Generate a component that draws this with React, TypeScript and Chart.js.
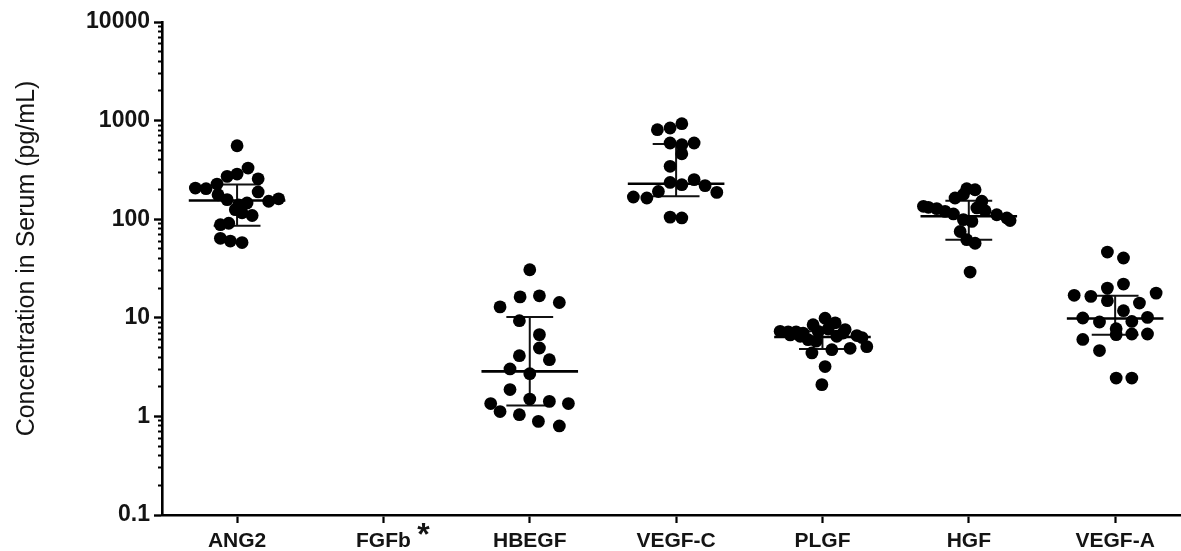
import { useEffect, useRef } from "react";
import { Chart, registerables } from "chart.js";

Chart.register(...registerables);

// ---------- data ----------
const categories = ["ANG2", "FGFb", "HBEGF", "VEGF-C", "PLGF", "HGF", "VEGF-A"];
const yTickLabels = [0.1, 1, 10, 100, 1000, 10000];
const yTitle = "Concentration in Serum (pg/mL)";

// values (pg/mL) and horizontal jitter (in category widths) for each group
const ang2Values = [556, 330, 287, 272, 257, 227, 207, 204, 189, 177, 158, 152, 161, 146, 140, 116, 109, 88, 91, 125, 64, 60, 58];
const ang2Jitter = [0, 0.075, 0, -0.068, 0.144, -0.137, -0.285, -0.212, 0.144, -0.13, -0.068, 0.216, 0.284, 0.068, 0.011, 0.034, 0.103, -0.114, -0.057, -0.012, -0.114, -0.046, 0.034];

const fgfbValues: number[] = [];
const fgfbJitter: number[] = [];

const hbegfValues = [30.7, 16.3, 16.7, 12.9, 14.3, 9.35, 6.75, 4.94, 4.13, 3.76, 3.03, 2.71, 1.87, 1.5, 1.42, 1.35, 1.12, 1.04, 1.35, 0.89, 0.8];
const hbegfJitter = [0, -0.066, 0.066, -0.203, 0.202, -0.071, 0.066, 0.066, -0.071, 0.134, -0.135, 0, -0.135, 0, 0.134, -0.267, -0.203, -0.071, 0.264, 0.059, 0.202];

const vegfcValues = [809, 841, 931, 593, 570, 593, 461, 344, 236, 224, 252, 219, 191, 164, 168, 187, 105, 103];
const vegfcJitter = [-0.128, -0.041, 0.039, -0.041, 0.039, 0.123, 0.039, -0.041, -0.041, 0.039, 0.123, 0.198, -0.121, -0.2, -0.292, 0.278, -0.041, 0.039];

const plgfValues = [7.3, 7.2, 7.2, 7.0, 8.5, 9.9, 8.9, 7.3, 7.0, 6.6, 5.1, 4.9, 4.75, 4.4, 3.2, 2.1, 6.0, 6.5, 7.6, 7.7, 6.7, 6.3, 5.8, 6.5];
const plgfJitter = [-0.289, -0.234, -0.18, -0.132, -0.064, 0.018, 0.087, -0.029, 0.141, 0.235, 0.303, 0.189, 0.064, -0.072, 0.018, -0.004, -0.098, 0.098, 0.155, 0.039, -0.22, 0.27, -0.044, -0.152];

const hgfValues = [204, 199, 164, 152, 132, 128, 120, 113, 130, 122, 111, 103, 97, 99, 95, 75, 62, 57, 29.1, 135, 178];
const hgfJitter = [-0.014, 0.043, -0.094, 0.089, -0.276, -0.219, -0.162, -0.105, 0.055, 0.111, 0.191, 0.26, 0.282, -0.037, 0.021, -0.059, -0.014, 0.043, 0.009, -0.31, -0.037];

const vegfaValues = [46.4, 40.4, 22, 20, 16.9, 16.5, 17.8, 14.9, 14.1, 11.8, 9.95, 9.07, 9.19, 10.1, 7.74, 6.85, 6.75, 6.85, 6.03, 4.65, 2.45, 2.45];
const vegfaJitter = [-0.053, 0.057, 0.057, -0.053, -0.28, -0.166, 0.28, -0.053, 0.166, 0.057, -0.221, -0.107, 0.114, 0.221, 0.007, 0.114, 0.007, 0.221, -0.221, -0.107, 0.007, 0.114];

// median and interquartile range per group (null = no data)
const medians = [155, null, 2.86, 229, 6.38, 107, 9.84];
const upperQuartiles = [225, null, 10.2, 580, 7.3, 154, 16.7];
const lowerQuartiles = [86, null, 1.29, 171, 4.82, 62, 6.75];

const groupValues = [ang2Values, fgfbValues, hbegfValues, vegfcValues, plgfValues, hgfValues, vegfaValues];
const groupJitter = [ang2Jitter, fgfbJitter, hbegfJitter, vegfcJitter, plgfJitter, hgfJitter, vegfaJitter];

const MEDIAN_HALF = 0.33;
const CAP_HALF = 0.16;

type Pt = { x: number; y: number | null };

function buildPoints(): Pt[] {
  const pts: Pt[] = [];
  groupValues.forEach((vals, i) => {
    vals.forEach((v, j) => pts.push({ x: i + groupJitter[i][j], y: v }));
  });
  return pts;
}

function buildMedianLines(): Pt[] {
  const pts: Pt[] = [];
  medians.forEach((m, i) => {
    if (m == null) return;
    pts.push({ x: i - MEDIAN_HALF, y: m }, { x: i + MEDIAN_HALF, y: m }, { x: i + MEDIAN_HALF, y: null });
  });
  return pts;
}

function buildWhiskers(): Pt[] {
  const pts: Pt[] = [];
  medians.forEach((m, i) => {
    const hi = upperQuartiles[i];
    const lo = lowerQuartiles[i];
    if (m == null || hi == null || lo == null) return;
    pts.push({ x: i - CAP_HALF, y: hi }, { x: i + CAP_HALF, y: hi }, { x: i + CAP_HALF, y: null });
    pts.push({ x: i - CAP_HALF, y: lo }, { x: i + CAP_HALF, y: lo }, { x: i + CAP_HALF, y: null });
    pts.push({ x: i, y: lo }, { x: i, y: hi }, { x: i, y: null });
  });
  return pts;
}

const minorTicks: number[] = [];
for (let d = 0.1; d < 10000; d *= 10) {
  for (let m = 2; m <= 9; m++) minorTicks.push(+(m * d).toPrecision(3));
}

const TEXT = "#141414";
const FONT = "'Liberation Sans', Arial, Helvetica, sans-serif";

export default function App() {
  const canvasRef = useRef<HTMLCanvasElement | null>(null);

  useEffect(() => {
    if (!canvasRef.current) return;

    const annotationsPlugin = {
      id: "annotations",
      afterDraw(chart: any) {
        const xs = chart.scales.x;
        const area = chart.chartArea;
        const ctx = chart.ctx;
        ctx.save();
        ctx.fillStyle = TEXT;
        // asterisk beside FGFb
        ctx.font = `bold 32px ${FONT}`;
        ctx.textAlign = "center";
        ctx.textBaseline = "middle";
        ctx.fillText("*", xs.getPixelForValue(1) + 40, xs.top + 21);
        // y-axis title
        ctx.translate(27, (area.top + area.bottom) / 2 - 10);
        ctx.rotate(-Math.PI / 2);
        ctx.font = `25px ${FONT}`;
        ctx.fillText(yTitle, 0, 0);
        ctx.restore();
      },
    };

    const chart = new Chart(canvasRef.current, {
      type: "scatter",
      data: {
        datasets: [
          {
            type: "scatter",
            label: "values",
            data: buildPoints(),
            backgroundColor: "#000",
            borderWidth: 0,
            pointRadius: 6.4,
            pointHoverRadius: 6.4,
            order: 0,
          } as any,
          {
            type: "line",
            label: "median",
            data: buildMedianLines(),
            borderColor: "#000",
            borderWidth: 2.6,
            pointRadius: 0,
            showLine: true,
            spanGaps: false,
            fill: false,
            order: 1,
          } as any,
          {
            type: "line",
            label: "iqr",
            data: buildWhiskers(),
            borderColor: "#111",
            borderWidth: 2,
            pointRadius: 0,
            showLine: true,
            spanGaps: false,
            fill: false,
            order: 2,
          } as any,
        ],
      },
      options: {
        animation: false,
        responsive: false,
        devicePixelRatio: 1,
        layout: { autoPadding: false, padding: { top: 22, left: 0, right: 0, bottom: 0 } },
        plugins: {
          legend: { display: false },
          tooltip: { enabled: false },
        },
        scales: {
          x: {
            type: "linear",
            min: -0.513,
            max: 6.45,
            afterBuildTicks: (scale: any) => {
              scale.ticks = categories.map((_, i) => ({ value: i }));
            },
            afterFit: (scale: any) => {
              scale.height = 36;
              scale.paddingLeft = 0;
              scale.paddingRight = 0;
            },
            ticks: {
              autoSkip: false,
              maxRotation: 0,
              padding: 6,
              color: TEXT,
              font: { family: FONT, size: 21, weight: "bold" },
              callback: (v: any) => categories[Math.round(Number(v))] ?? "",
            },
            grid: {
              drawOnChartArea: false,
              drawTicks: true,
              tickLength: 8,
              tickWidth: 2.2,
              tickColor: "#000",
            },
            border: { display: true, color: "#000", width: 2.6 },
          },
          y: {
            type: "logarithmic",
            position: "left",
            weight: 1,
            min: 0.1,
            max: 10000,
            afterBuildTicks: (scale: any) => {
              scale.ticks = yTickLabels.map((v) => ({ value: v, major: true }));
            },
            afterFit: (scale: any) => {
              scale.width = 162;
              scale.paddingTop = 0;
              scale.paddingBottom = 0;
            },
            ticks: {
              padding: 4,
              color: TEXT,
              font: { family: FONT, size: 23, weight: "bold" },
              callback: (v: any) => String(v),
            },
            grid: {
              drawOnChartArea: false,
              drawTicks: true,
              tickLength: 8,
              tickWidth: 2.4,
              tickColor: "#000",
            },
            border: { display: true, color: "#000", width: 2.6 },
          },
          yMinor: {
            type: "logarithmic",
            position: "left",
            weight: 0,
            min: 0.1,
            max: 10000,
            afterBuildTicks: (scale: any) => {
              scale.ticks = minorTicks.map((v) => ({ value: v }));
            },
            afterFit: (scale: any) => {
              scale.width = 0;
              scale.paddingTop = 0;
              scale.paddingBottom = 0;
            },
            ticks: { display: false },
            grid: {
              drawOnChartArea: false,
              drawTicks: true,
              tickLength: 4,
              tickWidth: 2,
              tickColor: "#000",
            },
            border: { display: false },
          },
        },
      } as any,
      plugins: [annotationsPlugin],
    });

    return () => chart.destroy();
  }, []);

  return (
    <div style={{ position: "absolute", left: 0, top: 0, width: 1181, height: 551, background: "#fff" }}>
      <canvas ref={canvasRef} width={1181} height={551} style={{ width: 1181, height: 551, display: "block" }} />
    </div>
  );
}
